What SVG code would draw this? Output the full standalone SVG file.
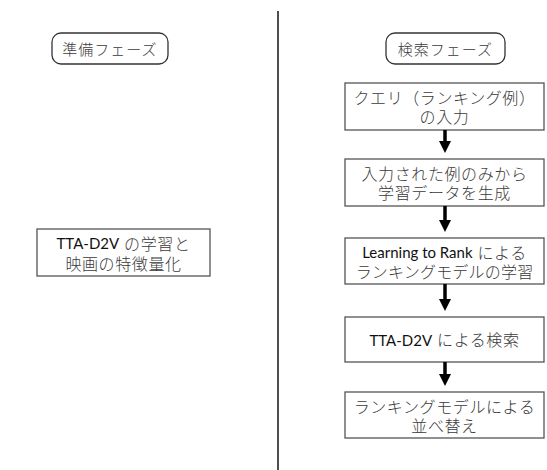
<svg xmlns="http://www.w3.org/2000/svg" width="547" height="470" viewBox="0 0 547 470">
<style>
.box{fill:#fff;stroke:#555;stroke-width:1.3}
.phase{fill:#fff;stroke:#333;stroke-width:1.3}
text{font-family:"Lato","Noto Sans CJK JP",sans-serif;font-size:16px;letter-spacing:0.6px;font-weight:300;fill:#3a3a3a;text-anchor:middle;dominant-baseline:central}
.en{font-size:15px;font-weight:400;letter-spacing:0;fill:#111}
.arrow{stroke:#000;stroke-width:3.5;fill:none}
</style>
<defs>
<marker id="ah" markerWidth="12" markerHeight="12" refX="0" refY="0" viewBox="-6 -6 12 12" markerUnits="userSpaceOnUse" orient="auto">
<path d="M-6,-6 L6,0 L-6,6 Z" fill="#000"/>
</marker>
</defs>
<rect width="547" height="470" fill="#fff"/>
<line x1="278" y1="11" x2="278" y2="470" stroke="#222" stroke-width="1.6"/>
<g id="prep-phase"><rect class="phase" x="52" y="33" width="116" height="31" rx="9"/><text x="110" y="48.5" style="font-size:15px;letter-spacing:1px">準備フェーズ</text></g>
<g id="search-phase"><rect class="phase" x="386" y="33" width="119" height="31" rx="9"/><text x="445.5" y="48.5" style="font-size:15px;letter-spacing:1px">検索フェーズ</text></g>
<g id="train"><rect class="box" x="37" y="229" width="173" height="47"/><text x="123.5" y="243"><tspan class="en">TTA-D2V</tspan> の学習と</text><text x="123.5" y="263">映画の特徴量化</text></g>
<g id="query"><rect class="box" x="345" y="83" width="199" height="47"/><text x="444.5" y="97">クエリ（ランキング例）</text><text x="444.5" y="116">の入力</text></g>
<g id="gen"><rect class="box" x="345" y="159" width="199" height="47"/><text x="444.5" y="173">入力された例のみから</text><text x="444.5" y="192">学習データを生成</text></g>
<g id="ltr"><rect class="box" x="345" y="238" width="199" height="46"/><text x="444.5" y="252"><tspan class="en">Learning to Rank</tspan> による</text><text x="444.5" y="271" style="letter-spacing:0.2px">ランキングモデルの学習</text></g>
<g id="search"><rect class="box" x="345" y="317" width="199" height="45"/><text x="444.5" y="339.5"><tspan class="en">TTA-D2V</tspan> による検索</text></g>
<g id="rerank"><rect class="box" x="345" y="392" width="199" height="46"/><text x="444.5" y="406">ランキングモデルによる</text><text x="444.5" y="425">並べ替え</text></g>
<g id="connectors">
<line class="arrow" x1="445" y1="130" x2="445" y2="147" marker-end="url(#ah)"/>
<line class="arrow" x1="445" y1="206" x2="445" y2="226" marker-end="url(#ah)"/>
<line class="arrow" x1="445" y1="284" x2="445" y2="305" marker-end="url(#ah)"/>
<line class="arrow" x1="445" y1="362" x2="445" y2="380" marker-end="url(#ah)"/>
</g>
</svg>
